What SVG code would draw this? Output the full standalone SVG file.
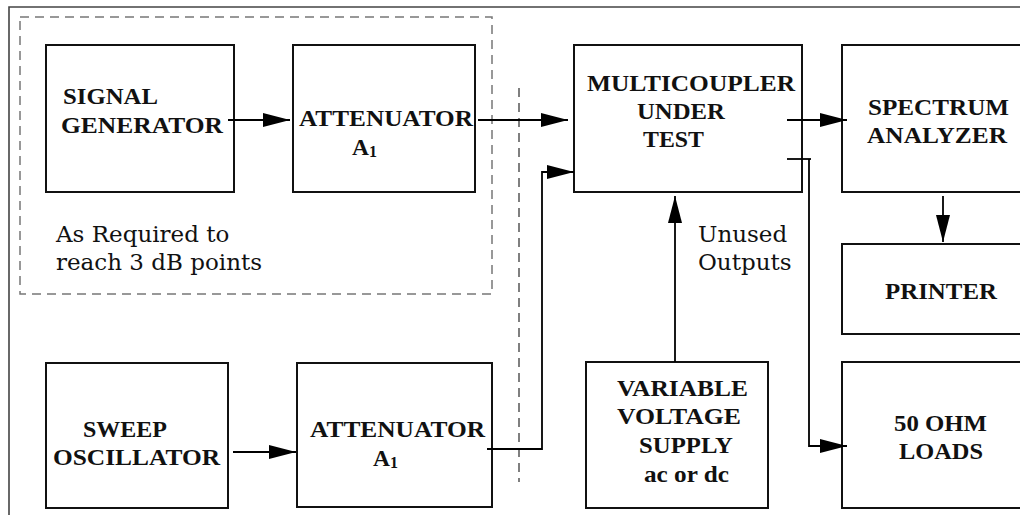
<svg xmlns="http://www.w3.org/2000/svg" width="1020" height="515" viewBox="0 0 1020 515">
<defs>
<marker id="ah" markerUnits="userSpaceOnUse" markerWidth="28" markerHeight="16" refX="27" refY="7" orient="auto">
<path d="M0,0 L27,7 L0,14 Z" fill="#000"/>
</marker>
<style>
.box{fill:#fff;stroke:#111;stroke-width:2}
.lbl{font-family:"Liberation Serif","Times New Roman",serif;font-weight:bold;font-size:23.5px;fill:#111}
.sub{font-size:16px}
.note{font-family:"DejaVu Serif","Liberation Serif",serif;font-size:23px;fill:#111}
.wire{fill:none;stroke:#000;stroke-width:1.8}
.frame{fill:none;stroke:#444;stroke-width:1.6}
.dash{fill:none;stroke:#777;stroke-width:1.5;stroke-dasharray:9,6}
</style>
</defs>
<rect width="1020" height="515" fill="#fff"/>
<g id="frame">
<path class="frame" d="M9,515 V7 H1020"/>
<rect class="dash" x="20" y="17" width="472" height="277"/>
<path class="dash" d="M519,88 V482" style="stroke:#555"/>
</g>
<g id="signal-generator">
<rect class="box" x="46" y="45" width="188" height="147"/>
<text class="lbl" x="63" y="104" textLength="95" lengthAdjust="spacingAndGlyphs">SIGNAL</text>
<text class="lbl" x="61" y="133" textLength="162" lengthAdjust="spacingAndGlyphs">GENERATOR</text>
</g>
<g id="attenuator-top">
<rect class="box" x="293" y="45" width="182" height="147"/>
<text class="lbl" x="299" y="126" textLength="174" lengthAdjust="spacingAndGlyphs">ATTENUATOR</text>
<text class="lbl" x="352" y="155">A<tspan class="sub" dy="2">1</tspan></text>
</g>
<g id="note">
<text class="note" x="56" y="242">As Required to</text>
<text class="note" x="56" y="270">reach 3 dB points</text>
</g>
<g id="multicoupler">
<rect class="box" x="574" y="45" width="228" height="147"/>
<text class="lbl" x="587" y="91" textLength="208" lengthAdjust="spacingAndGlyphs">MULTICOUPLER</text>
<text class="lbl" x="637" y="119" textLength="88" lengthAdjust="spacingAndGlyphs">UNDER</text>
<text class="lbl" x="643" y="147" textLength="61" lengthAdjust="spacingAndGlyphs">TEST</text>
</g>
<g id="spectrum-analyzer">
<rect class="box" x="842" y="45" width="200" height="147"/>
<text class="lbl" x="868" y="115" textLength="141" lengthAdjust="spacingAndGlyphs">SPECTRUM</text>
<text class="lbl" x="867" y="143" textLength="140" lengthAdjust="spacingAndGlyphs">ANALYZER</text>
</g>
<g id="printer">
<rect class="box" x="842" y="244" width="200" height="90"/>
<text class="lbl" x="885" y="299" textLength="112" lengthAdjust="spacingAndGlyphs">PRINTER</text>
</g>
<g id="loads">
<rect class="box" x="842" y="362" width="200" height="146"/>
<text class="lbl" x="894" y="431" textLength="93" lengthAdjust="spacingAndGlyphs">50 OHM</text>
<text class="lbl" x="899" y="459" textLength="84" lengthAdjust="spacingAndGlyphs">LOADS</text>
</g>
<g id="voltage-supply">
<rect class="box" x="586" y="362" width="182" height="146"/>
<text class="lbl" x="617" y="396" textLength="131" lengthAdjust="spacingAndGlyphs">VARIABLE</text>
<text class="lbl" x="617" y="424" textLength="124" lengthAdjust="spacingAndGlyphs">VOLTAGE</text>
<text class="lbl" x="639" y="453" textLength="94" lengthAdjust="spacingAndGlyphs">SUPPLY</text>
<text class="lbl" x="644" y="482" textLength="85" lengthAdjust="spacingAndGlyphs">ac or dc</text>
</g>
<g id="unused-label">
<text class="note" x="698" y="242">Unused</text>
<text class="note" x="698" y="270">Outputs</text>
</g>
<g id="sweep-oscillator">
<rect class="box" x="46" y="363" width="182" height="145"/>
<text class="lbl" x="83" y="437" textLength="84" lengthAdjust="spacingAndGlyphs">SWEEP</text>
<text class="lbl" x="53" y="465" textLength="167" lengthAdjust="spacingAndGlyphs">OSCILLATOR</text>
</g>
<g id="attenuator-bottom">
<rect class="box" x="297" y="363" width="195" height="144"/>
<text class="lbl" x="310" y="437" textLength="175" lengthAdjust="spacingAndGlyphs">ATTENUATOR</text>
<text class="lbl" x="373" y="466">A<tspan class="sub" dy="2">1</tspan></text>
</g>
<g id="connectors">
<path class="wire" d="M228,120 H290" marker-end="url(#ah)"/>
<path class="wire" d="M478,120 H568" marker-end="url(#ah)"/>
<path class="wire" d="M787,120 H847" marker-end="url(#ah)"/>
<path class="wire" d="M943,196 V242" marker-end="url(#ah)"/>
<path class="wire" d="M675,362 V196" marker-end="url(#ah)"/>
<path class="wire" d="M787,159 H811"/>
<path class="wire" d="M809,159 V446 H847" marker-end="url(#ah)"/>
<path class="wire" d="M233,452 H296" marker-end="url(#ah)"/>
<path class="wire" d="M487,449 H542 V172 H574" marker-end="url(#ah)"/>
</g>
</svg>
